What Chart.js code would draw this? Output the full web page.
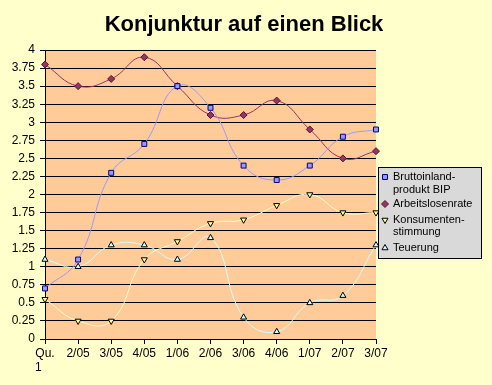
<!DOCTYPE html>
<html>
<head>
<meta charset="utf-8">
<script src="https://cdn.jsdelivr.net/npm/chart.js@4"></script>
<style>
  html, body { margin:0; padding:0; background:#FFFFCC; }
  canvas { display:block; }
</style>
</head>
<body>
<canvas id="konjChart" width="492" height="385"></canvas>
<script>
// ==============================
// Daten
// ==============================
const quartale = [["Qu.", "1    "], "2/05", "3/05", "4/05", "1/06", "2/06", "3/06", "4/06", "1/07", "2/07", "3/07"];
const bip = [0.7, 1.1, 2.3, 2.7, 3.5, 3.2, 2.4, 2.2, 2.4, 2.8, 2.9];
const arbeitslosen = [3.8, 3.5, 3.6, 3.9, 3.5, 3.1, 3.1, 3.3, 2.9, 2.5, 2.6];
const konsumenten = [0.55, 0.25, 0.25, 1.1, 1.35, 1.6, 1.65, 1.85, 2.0, 1.75, 1.75];
const teuerung = [1.1, 1.0, 1.3, 1.3, 1.1, 1.4, 0.3, 0.1, 0.5, 0.6, 1.3];

const titel = "Konjunktur auf einen Blick";
// Legende: Zeilen pro Serie (umgebrochen wie im Original)
const legendeZeilen = [["Bruttoinland-", "produkt BIP"], ["Arbeitslosenrate"], ["Konsumenten-", "stimmung"], ["Teuerung"]];

const FONT = "'Liberation Sans', Arial, sans-serif";

// Titel + Legendenkasten selbst zeichnen
const excelDeko = {
  id: "excelDeko",
  beforeDraw(chart) {
    const { ctx, chartArea: a } = chart;
    ctx.save();
    ctx.fillStyle = "#FFCC99";
    ctx.fillRect(a.left, a.top, a.right - a.left, a.bottom - a.top);
    ctx.restore();
  },
  afterDraw(chart) {
    const ctx = chart.ctx;
    ctx.save();
    ctx.fillStyle = "#000";
    ctx.font = "bold 22px " + FONT;
    ctx.textAlign = "center";
    ctx.textBaseline = "alphabetic";
    ctx.fillText(titel, 244, 31);

    // Legendenkasten
    ctx.fillStyle = "#D9D9D9";
    ctx.fillRect(378.5, 167.5, 103, 91);
    ctx.strokeStyle = "#000";
    ctx.lineWidth = 1;
    ctx.strokeRect(378.5, 167.5, 103, 91);

    ctx.font = "11px " + FONT;
    ctx.textAlign = "left";
    ctx.textBaseline = "middle";
    const zeilenY = [[177, 190], [204], [220, 232], [248]];
    chart.data.datasets.forEach((ds, i) => {
      const y0 = zeilenY[i][0];
      legendeZeilen[i].forEach((t, j) => {
        ctx.fillStyle = "#000";
        ctx.fillText(t, 393, zeilenY[i][j]);
      });
      ctx.fillStyle = ds.pointBackgroundColor;
      ctx.strokeStyle = ds.pointBorderColor;
      Chart.helpers.drawPoint(ctx, {
        pointStyle: ds.pointStyle, radius: 3.5, rotation: ds.pointRotation || 0, borderWidth: 1
      }, 385, y0);
    });
    ctx.restore();
  }
};

new Chart(document.getElementById("konjChart"), {
  type: "line",
  data: {
    labels: quartale,
    datasets: [
      { label: "Bruttoinlandprodukt BIP", data: bip, borderColor: "#9999FF",
        pointStyle: "rect", pointBackgroundColor: "#9999FF", pointBorderColor: "#000080" },
      { label: "Arbeitslosenrate", data: arbeitslosen, borderColor: "#993366",
        pointStyle: "rectRot", pointBackgroundColor: "#993366", pointBorderColor: "#4d1a33" },
      { label: "Konsumentenstimmung", data: konsumenten, borderColor: "#FFFFCC",
        pointStyle: "triangle", pointRotation: 180, pointBackgroundColor: "#FFFF99", pointBorderColor: "#000" },
      { label: "Teuerung", data: teuerung, borderColor: "#CCFFFF",
        pointStyle: "triangle", pointBackgroundColor: "#CCFFFF", pointBorderColor: "#000" }
    ]
  },
  options: {
    responsive: false,
    animation: false,
    layout: { padding: { top: 50, right: 116, left: 0, bottom: 0 } },
    elements: {
      line: { borderWidth: 1, tension: 0.45, fill: false },
      point: { radius: 3.5, borderWidth: 1, hoverRadius: 3.5 }
    },
    plugins: { legend: { display: false }, tooltip: { enabled: false }, title: { display: false } },
    scales: {
      x: {
        offset: false,
        afterFit: (s) => { s.height = 46; },
        grid: { drawOnChartArea: false, drawTicks: true, tickLength: 5, color: "#000" },
        border: { color: "#000" },
        ticks: { color: "#000", font: { family: FONT, size: 12 }, padding: 2, maxRotation: 0, autoSkip: false }
      },
      y: {
        min: 0, max: 4,
        afterFit: (s) => { s.width = 45; },
        grid: { color: "#000", tickLength: 5 },
        border: { color: "#000" },
        ticks: { stepSize: 0.25, color: "#000", font: { family: FONT, size: 12 }, padding: 5,
                 callback: (v) => String(Math.round(v * 100) / 100) }
      }
    }
  },
  plugins: [excelDeko]
});
</script>
</body>
</html>
